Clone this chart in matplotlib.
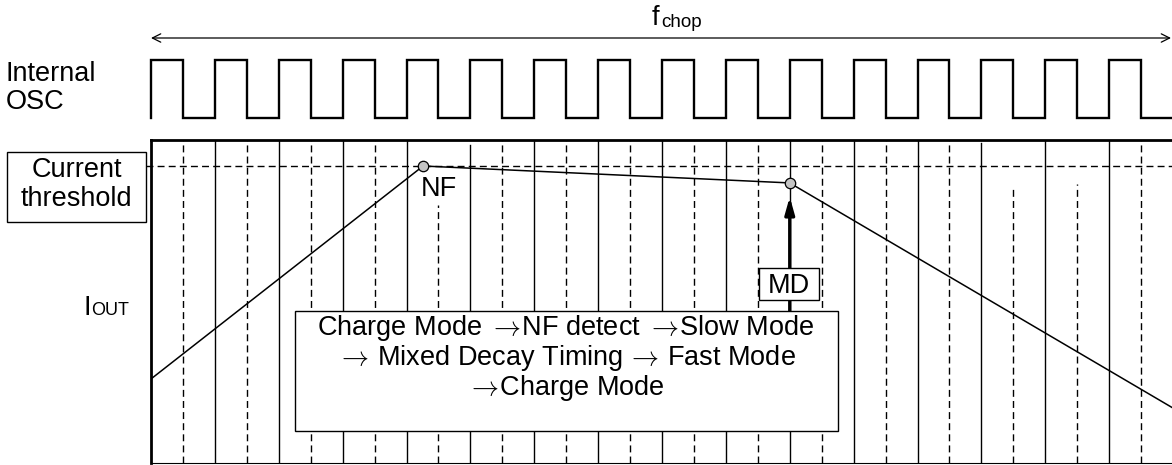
import matplotlib.pyplot as plt
from matplotlib.patches import Rectangle
from matplotlib.transforms import Affine2D, blended_transform_factory

plt.rcParams['font.family'] = ['Liberation Sans', 'DejaVu Sans']
plt.rcParams['mathtext.fontset'] = 'cm'

# internal oscillator edges, in chopping periods
osc_rise = [0, 1, 2, 3, 4, 5, 6, 7, 8, 9, 10, 11, 12, 13, 14, 15]
osc_fall = [0.5, 1.5, 2.5, 3.5, 4.5, 5.5, 6.5, 7.5, 8.5, 9.5, 10.5, 11.5, 12.5, 13.5, 14.5, 15.5]
t_end = 16

# output current, relative to the current threshold
i_thresh = 1.0
cur_t = [0.0, 4.26, 10.0, 16.0]
cur_i = [0.283, 1.0, 0.943, 0.185]
nf_idx = 1
md_idx = 2

# timing grid: solid on rising edges, dashed on falling edges
grid_solid = osc_rise[1:]
grid_dashed = osc_fall
solid_top = {5: 1.07, 13: 1.077}
dashed_top = {4.5: 0.87, 13.5: 0.93, 14.5: 0.94}

ARROW = r'$\rightarrow\!$'
mode_lines = ['Charge Mode ' + ARROW + 'NF detect ' + ARROW + 'Slow Mode',
              ARROW + ' Mixed Decay Timing' + r'$\,\rightarrow\!$' + ' Fast Mode',
              ARROW + 'Charge Mode']

W, H = 1172, 465
FS = 19.5
fig = plt.figure(figsize=(W / 100, H / 100), dpi=100)
# pixel coordinates, origin top left
px = Affine2D().scale(1 / W, -1 / H).translate(0, 1) + fig.transFigure


def area(l, t, r, b):
    return [l / W, 1 - b / H, (r - l) / W, (b - t) / H]


# --- oscillator ---
ax_osc = fig.add_axes(area(151, 60, 1173, 118))
ax_osc.set_xlim(0, t_end)
ax_osc.set_ylim(0, 1)
ax_osc.axis('off')
xs, ys = [osc_rise[0]], [0]
for r, f in zip(osc_rise, osc_fall):
    xs += [r, r, f, f]
    ys += [0, 1, 1, 0]
xs.append(t_end)
ys.append(0)
ax_osc.plot(xs, ys, color='k', lw=1.7, solid_joinstyle='miter', clip_on=False)

ax_osc.annotate('', xy=(1171, 38), xytext=(151, 38), xycoords=px, textcoords=px,
                arrowprops=dict(arrowstyle='<->', lw=0.9, mutation_scale=15,
                                shrinkA=0, shrinkB=0, color='k'),
                annotation_clip=False)
fig.text(652, 25, 'f', transform=px, fontsize=FS, ha='left', va='baseline')
fig.text(661, 27, 'chop', transform=px, fontsize=13.5, ha='left', va='baseline')

fig.text(5.5, 81, 'Internal', transform=px, fontsize=FS, ha='left', va='baseline')
fig.text(5.5, 109, 'OSC', transform=px, fontsize=FS, ha='left', va='baseline')

# --- output current ---
ax = fig.add_axes(area(151, 140, 1173, 463))
ax.set_xlim(0, t_end)
y_top = (463 - 140) / 297
ax.set_ylim(0, y_top)
ax.set_xticks([])
ax.set_yticks([])
ax.spines['right'].set_visible(False)
ax.spines['top'].set_linewidth(2)
ax.spines['left'].set_linewidth(2)
ax.spines['bottom'].set_linewidth(0.8)

for t in grid_solid:
    ax.plot([t, t], [0, solid_top.get(t, y_top)], color='k', lw=1.0, zorder=1)
for t in grid_dashed:
    ax.plot([t, t], [0, dashed_top.get(t, y_top)], color='k', lw=1.0,
            ls=(0, (5, 3)), zorder=1)

ax.plot([146, 1172], [i_thresh, i_thresh], transform=blended_transform_factory(px, ax.transData),
        color='k', lw=1.0, ls=(0, (5, 3)), clip_on=False, zorder=1)

ax.plot(cur_t, cur_i, color='k', lw=1.1, zorder=3)

ax.annotate('', xy=(cur_t[md_idx], cur_i[md_idx]), xytext=(cur_t[md_idx], 320),
            textcoords=blended_transform_factory(ax.transData, px),
            arrowprops=dict(arrowstyle='-|>,head_length=0.5,head_width=0.14',
                            mutation_scale=20, lw=2.4, color='k',
                            shrinkA=0, shrinkB=10),
            zorder=3)

ax.plot([cur_t[nf_idx], cur_t[md_idx]], [cur_i[nf_idx], cur_i[md_idx]], 'o',
        ms=7.5, mfc='#c4c4c4', mec='k', mew=0.9, zorder=5)
ax.text(421, 196, 'NF', transform=px, fontsize=FS, ha='left', va='baseline', zorder=6)

ax.add_patch(Rectangle((759, 268), 60, 32, transform=px, fc='white', ec='k',
                       lw=1.0, zorder=4, clip_on=False))
ax.text(789, 293, 'MD', transform=px, fontsize=FS, ha='center', va='baseline', zorder=6)

ax.add_patch(Rectangle((295, 311), 543, 120, transform=px, fc='white', ec='k',
                       lw=1.0, zorder=4, clip_on=False))
for k, s in enumerate(mode_lines):
    ax.text(566, 335 + 30 * k, s, transform=px, fontsize=FS, ha='center',
            va='baseline', zorder=6)

# --- left labels ---
fig.add_artist(Rectangle((7, 152), 139, 70, transform=px, fc='white', ec='k', lw=1.0))
fig.text(77, 177, 'Current', transform=px, fontsize=FS, ha='center', va='baseline')
fig.text(76.5, 206, 'threshold', transform=px, fontsize=FS, ha='center', va='baseline')

fig.text(83.5, 315, 'I', transform=px, fontsize=FS, ha='left', va='baseline')
fig.text(91.4, 315, 'OUT', transform=px, fontsize=13, ha='left', va='baseline')

fig.savefig('out.png', dpi=100)
